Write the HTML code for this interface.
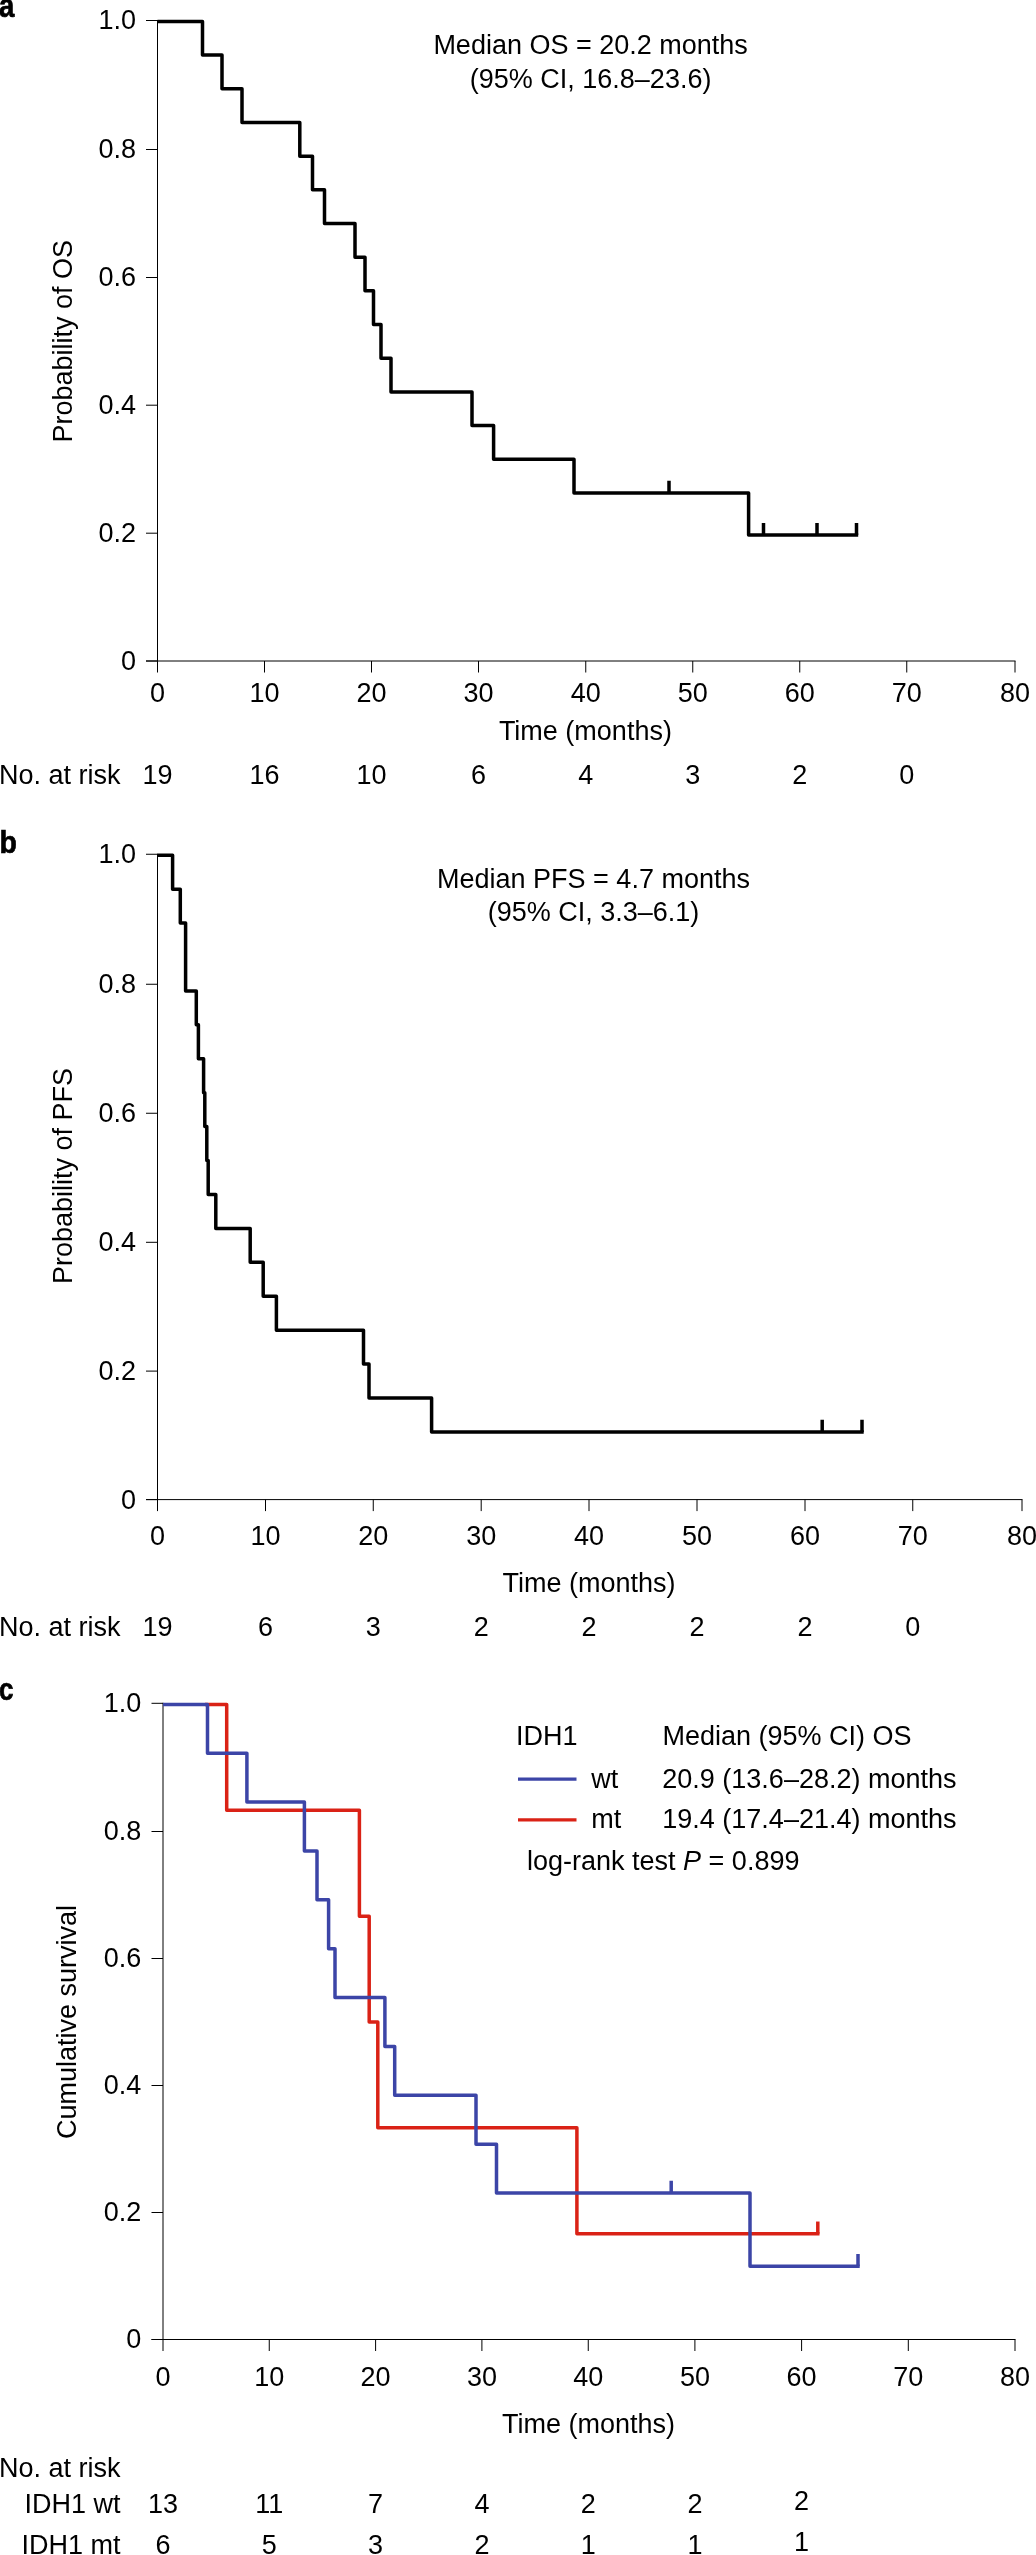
<!DOCTYPE html>
<html><head><meta charset="utf-8"><style>
html,body{margin:0;padding:0;background:#fff;}
svg{display:block;font-family:"Liberation Sans", sans-serif;will-change:transform;}
text{fill:#000;}
</style></head><body>
<svg width="1036" height="2555" viewBox="0 0 1036 2555">
<line x1="157.5" y1="20.0" x2="157.5" y2="672.5" stroke="#000" stroke-width="1"/>
<line x1="146.0" y1="20.5" x2="157.5" y2="20.5" stroke="#000" stroke-width="1"/>
<text x="136" y="29.4" text-anchor="end" font-size="27">1.0</text>
<line x1="146.0" y1="149.5" x2="157.5" y2="149.5" stroke="#000" stroke-width="1"/>
<text x="136" y="158.4" text-anchor="end" font-size="27">0.8</text>
<line x1="146.0" y1="277.5" x2="157.5" y2="277.5" stroke="#000" stroke-width="1"/>
<text x="136" y="286.4" text-anchor="end" font-size="27">0.6</text>
<line x1="146.0" y1="405.2" x2="157.5" y2="405.2" stroke="#000" stroke-width="1"/>
<text x="136" y="414.1" text-anchor="end" font-size="27">0.4</text>
<line x1="146.0" y1="533.2" x2="157.5" y2="533.2" stroke="#000" stroke-width="1"/>
<text x="136" y="542.1" text-anchor="end" font-size="27">0.2</text>
<line x1="146.0" y1="661.0" x2="157.5" y2="661.0" stroke="#000" stroke-width="1"/>
<text x="136" y="669.9" text-anchor="end" font-size="27">0</text>
<line x1="146.0" y1="661.0" x2="1015.5" y2="661.0" stroke="#000" stroke-width="1"/>
<line x1="264.5" y1="661.0" x2="264.5" y2="672.5" stroke="#000" stroke-width="1"/>
<line x1="371.5" y1="661.0" x2="371.5" y2="672.5" stroke="#000" stroke-width="1"/>
<line x1="478.5" y1="661.0" x2="478.5" y2="672.5" stroke="#000" stroke-width="1"/>
<line x1="585.75" y1="661.0" x2="585.75" y2="672.5" stroke="#000" stroke-width="1"/>
<line x1="692.75" y1="661.0" x2="692.75" y2="672.5" stroke="#000" stroke-width="1"/>
<line x1="799.75" y1="661.0" x2="799.75" y2="672.5" stroke="#000" stroke-width="1"/>
<line x1="906.75" y1="661.0" x2="906.75" y2="672.5" stroke="#000" stroke-width="1"/>
<line x1="1015.0" y1="661.0" x2="1015.0" y2="672.5" stroke="#000" stroke-width="1"/>
<text x="157.5" y="701.7" text-anchor="middle" font-size="27">0</text>
<text x="264.5" y="701.7" text-anchor="middle" font-size="27">10</text>
<text x="371.5" y="701.7" text-anchor="middle" font-size="27">20</text>
<text x="478.5" y="701.7" text-anchor="middle" font-size="27">30</text>
<text x="585.75" y="701.7" text-anchor="middle" font-size="27">40</text>
<text x="692.75" y="701.7" text-anchor="middle" font-size="27">50</text>
<text x="799.75" y="701.7" text-anchor="middle" font-size="27">60</text>
<text x="906.75" y="701.7" text-anchor="middle" font-size="27">70</text>
<text x="1015.0" y="701.7" text-anchor="middle" font-size="27">80</text>
<text x="585.4" y="740.3" text-anchor="middle" font-size="27">Time (months)</text>
<text x="71.9" y="341.3" text-anchor="middle" font-size="27" transform="rotate(-90 71.9 341.3)">Probability of OS</text>
<text transform="translate(-0.9,17) scale(0.85,1)" font-size="32.5" font-weight="bold" stroke="#000" stroke-width="0.7">a</text>
<text x="590.6" y="53.9" text-anchor="middle" font-size="27">Median OS = 20.2 months</text>
<text x="590.6" y="87.5" text-anchor="middle" font-size="27">(95% CI, 16.8–23.6)</text>
<text x="-1" y="784.0" text-anchor="start" font-size="27">No. at risk</text>
<text x="157.5" y="784.0" text-anchor="middle" font-size="27">19</text>
<text x="264.5" y="784.0" text-anchor="middle" font-size="27">16</text>
<text x="371.5" y="784.0" text-anchor="middle" font-size="27">10</text>
<text x="478.5" y="784.0" text-anchor="middle" font-size="27">6</text>
<text x="585.75" y="784.0" text-anchor="middle" font-size="27">4</text>
<text x="692.75" y="784.0" text-anchor="middle" font-size="27">3</text>
<text x="799.75" y="784.0" text-anchor="middle" font-size="27">2</text>
<text x="906.75" y="784.0" text-anchor="middle" font-size="27">0</text>
<path d="M157.5,21.4 H202.5 V55.08 H222 V88.77 H242 V122.45 H299.8 V156.14 H312.5 V189.82 H324.5 V223.51 H355 V257.19 H365 V290.87 H373.5 V324.56 H381 V358.24 H391 V391.93 H472 V425.61 H493.6 V459.29 H574.0 V492.98 H748.6 V535.08 H858.2" fill="none" stroke="#000" stroke-width="3.5" stroke-linejoin="round" stroke-linecap="butt"/>
<path d="M669,492.98 V480.78 M763.5,535.08 V522.88 M817,535.08 V522.88 M856.5,535.08 V522.88" fill="none" stroke="#000" stroke-width="3.5" stroke-linejoin="round" stroke-linecap="butt"/>
<line x1="157.5" y1="853.75" x2="157.5" y2="1511.1" stroke="#000" stroke-width="1"/>
<line x1="146.0" y1="854.25" x2="157.5" y2="854.25" stroke="#000" stroke-width="1"/>
<text x="136" y="863.15" text-anchor="end" font-size="27">1.0</text>
<line x1="146.0" y1="984.25" x2="157.5" y2="984.25" stroke="#000" stroke-width="1"/>
<text x="136" y="993.15" text-anchor="end" font-size="27">0.8</text>
<line x1="146.0" y1="1113.25" x2="157.5" y2="1113.25" stroke="#000" stroke-width="1"/>
<text x="136" y="1122.15" text-anchor="end" font-size="27">0.6</text>
<line x1="146.0" y1="1242.3" x2="157.5" y2="1242.3" stroke="#000" stroke-width="1"/>
<text x="136" y="1251.2" text-anchor="end" font-size="27">0.4</text>
<line x1="146.0" y1="1371.1" x2="157.5" y2="1371.1" stroke="#000" stroke-width="1"/>
<text x="136" y="1380.0" text-anchor="end" font-size="27">0.2</text>
<line x1="146.0" y1="1499.6" x2="157.5" y2="1499.6" stroke="#000" stroke-width="1"/>
<text x="136" y="1508.5" text-anchor="end" font-size="27">0</text>
<line x1="146.0" y1="1499.6" x2="1022.5" y2="1499.6" stroke="#000" stroke-width="1"/>
<line x1="265.5" y1="1499.6" x2="265.5" y2="1511.1" stroke="#000" stroke-width="1"/>
<line x1="373.25" y1="1499.6" x2="373.25" y2="1511.1" stroke="#000" stroke-width="1"/>
<line x1="481.2" y1="1499.6" x2="481.2" y2="1511.1" stroke="#000" stroke-width="1"/>
<line x1="589.0" y1="1499.6" x2="589.0" y2="1511.1" stroke="#000" stroke-width="1"/>
<line x1="697.0" y1="1499.6" x2="697.0" y2="1511.1" stroke="#000" stroke-width="1"/>
<line x1="805.0" y1="1499.6" x2="805.0" y2="1511.1" stroke="#000" stroke-width="1"/>
<line x1="912.75" y1="1499.6" x2="912.75" y2="1511.1" stroke="#000" stroke-width="1"/>
<line x1="1022.0" y1="1499.6" x2="1022.0" y2="1511.1" stroke="#000" stroke-width="1"/>
<text x="157.5" y="1544.6" text-anchor="middle" font-size="27">0</text>
<text x="265.5" y="1544.6" text-anchor="middle" font-size="27">10</text>
<text x="373.25" y="1544.6" text-anchor="middle" font-size="27">20</text>
<text x="481.2" y="1544.6" text-anchor="middle" font-size="27">30</text>
<text x="589.0" y="1544.6" text-anchor="middle" font-size="27">40</text>
<text x="697.0" y="1544.6" text-anchor="middle" font-size="27">50</text>
<text x="805.0" y="1544.6" text-anchor="middle" font-size="27">60</text>
<text x="912.75" y="1544.6" text-anchor="middle" font-size="27">70</text>
<text x="1022.0" y="1544.6" text-anchor="middle" font-size="27">80</text>
<text x="589" y="1592.2" text-anchor="middle" font-size="27">Time (months)</text>
<text x="71.9" y="1176" text-anchor="middle" font-size="27" transform="rotate(-90 71.9 1176)">Probability of PFS</text>
<text transform="translate(-0.6,852.6) scale(0.89,1)" font-size="32" font-weight="bold" stroke="#000" stroke-width="0.7">b</text>
<text x="593.5" y="887.8" text-anchor="middle" font-size="27">Median PFS = 4.7 months</text>
<text x="593.5" y="921.3" text-anchor="middle" font-size="27">(95% CI, 3.3–6.1)</text>
<text x="-1" y="1635.8" text-anchor="start" font-size="27">No. at risk</text>
<text x="157.5" y="1635.8" text-anchor="middle" font-size="27">19</text>
<text x="265.5" y="1635.8" text-anchor="middle" font-size="27">6</text>
<text x="373.25" y="1635.8" text-anchor="middle" font-size="27">3</text>
<text x="481.2" y="1635.8" text-anchor="middle" font-size="27">2</text>
<text x="589.0" y="1635.8" text-anchor="middle" font-size="27">2</text>
<text x="697.0" y="1635.8" text-anchor="middle" font-size="27">2</text>
<text x="805.0" y="1635.8" text-anchor="middle" font-size="27">2</text>
<text x="912.75" y="1635.8" text-anchor="middle" font-size="27">0</text>
<path d="M157.5,855.2 H172.6 V889.13 H180.3 V923.05 H185.6 V990.91 H196.3 V1024.83 H198.4 V1058.76 H203.6 V1092.68 H204.8 V1126.61 H206.8 V1160.54 H208.2 V1194.46 H215.8 V1228.39 H250.2 V1262.32 H263.2 V1296.24 H276.4 V1330.17 H363.5 V1364.09 H369 V1398.02 H431.6 V1431.95 H863.7" fill="none" stroke="#000" stroke-width="3.5" stroke-linejoin="round" stroke-linecap="butt"/>
<path d="M822.2,1431.95 V1419.75 M862,1431.95 V1419.75" fill="none" stroke="#000" stroke-width="3.5" stroke-linejoin="round" stroke-linecap="butt"/>
<line x1="163.0" y1="1702.8" x2="163.0" y2="2351.0" stroke="#000" stroke-width="1"/>
<line x1="151.5" y1="1703.3" x2="163.0" y2="1703.3" stroke="#000" stroke-width="1"/>
<text x="141.3" y="1712.2" text-anchor="end" font-size="27">1.0</text>
<line x1="151.5" y1="1831.5" x2="163.0" y2="1831.5" stroke="#000" stroke-width="1"/>
<text x="141.3" y="1840.4" text-anchor="end" font-size="27">0.8</text>
<line x1="151.5" y1="1958.5" x2="163.0" y2="1958.5" stroke="#000" stroke-width="1"/>
<text x="141.3" y="1967.4" text-anchor="end" font-size="27">0.6</text>
<line x1="151.5" y1="2085.5" x2="163.0" y2="2085.5" stroke="#000" stroke-width="1"/>
<text x="141.3" y="2094.4" text-anchor="end" font-size="27">0.4</text>
<line x1="151.5" y1="2212.5" x2="163.0" y2="2212.5" stroke="#000" stroke-width="1"/>
<text x="141.3" y="2221.4" text-anchor="end" font-size="27">0.2</text>
<line x1="151.5" y1="2339.5" x2="163.0" y2="2339.5" stroke="#000" stroke-width="1"/>
<text x="141.3" y="2348.4" text-anchor="end" font-size="27">0</text>
<line x1="151.5" y1="2339.5" x2="1015.5" y2="2339.5" stroke="#000" stroke-width="1"/>
<line x1="269.25" y1="2339.5" x2="269.25" y2="2351.0" stroke="#000" stroke-width="1"/>
<line x1="375.6" y1="2339.5" x2="375.6" y2="2351.0" stroke="#000" stroke-width="1"/>
<line x1="481.9" y1="2339.5" x2="481.9" y2="2351.0" stroke="#000" stroke-width="1"/>
<line x1="588.25" y1="2339.5" x2="588.25" y2="2351.0" stroke="#000" stroke-width="1"/>
<line x1="694.9" y1="2339.5" x2="694.9" y2="2351.0" stroke="#000" stroke-width="1"/>
<line x1="801.6" y1="2339.5" x2="801.6" y2="2351.0" stroke="#000" stroke-width="1"/>
<line x1="908.3" y1="2339.5" x2="908.3" y2="2351.0" stroke="#000" stroke-width="1"/>
<line x1="1015.0" y1="2339.5" x2="1015.0" y2="2351.0" stroke="#000" stroke-width="1"/>
<text x="163.0" y="2386.2" text-anchor="middle" font-size="27">0</text>
<text x="269.25" y="2386.2" text-anchor="middle" font-size="27">10</text>
<text x="375.6" y="2386.2" text-anchor="middle" font-size="27">20</text>
<text x="481.9" y="2386.2" text-anchor="middle" font-size="27">30</text>
<text x="588.25" y="2386.2" text-anchor="middle" font-size="27">40</text>
<text x="694.9" y="2386.2" text-anchor="middle" font-size="27">50</text>
<text x="801.6" y="2386.2" text-anchor="middle" font-size="27">60</text>
<text x="908.3" y="2386.2" text-anchor="middle" font-size="27">70</text>
<text x="1015.0" y="2386.2" text-anchor="middle" font-size="27">80</text>
<text x="588.5" y="2433" text-anchor="middle" font-size="27">Time (months)</text>
<text x="76.1" y="2022" text-anchor="middle" font-size="27" transform="rotate(-90 76.1 2022)">Cumulative survival</text>
<text transform="translate(-1,1699.5) scale(0.81,1)" font-size="32" font-weight="bold" stroke="#000" stroke-width="0.7">c</text>
<path d="M205,1704.4 H226.7 V1810.27 H359.4 V1916.13 H369.2 V2022.0 H377.8 V2127.87 H576.9 V2233.73 H819.5" fill="none" stroke="#da2216" stroke-width="3.5" stroke-linejoin="round" stroke-linecap="butt"/>
<path d="M817.8,2233.73 V2221.53" fill="none" stroke="#da2216" stroke-width="3.5" stroke-linejoin="round" stroke-linecap="butt"/>
<path d="M163,1704.4 H207.5 V1753.26 H246.9 V1802.12 H304.4 V1850.98 H317 V1899.85 H328.6 V1948.71 H335 V1997.57 H384.9 V2046.43 H394.7 V2095.29 H476 V2144.15 H496.5 V2193.02 H750 V2266.31 H859.7" fill="none" stroke="#3c45a7" stroke-width="3.5" stroke-linejoin="round" stroke-linecap="butt"/>
<path d="M671.2,2193.02 V2180.82 M858,2266.31 V2254.11" fill="none" stroke="#3c45a7" stroke-width="3.5" stroke-linejoin="round" stroke-linecap="butt"/>
<text x="516" y="1744.8" text-anchor="start" font-size="27">IDH1</text>
<text x="662.5" y="1744.8" text-anchor="start" font-size="27">Median (95% CI) OS</text>
<line x1="518" y1="1779.1" x2="576.5" y2="1779.1" stroke="#3c45a7" stroke-width="3.2"/>
<text x="591.3" y="1787.8" text-anchor="start" font-size="27">wt</text>
<text x="662.3" y="1787.8" text-anchor="start" font-size="27">20.9 (13.6–28.2) months</text>
<line x1="518" y1="1819.9" x2="576.5" y2="1819.9" stroke="#da2216" stroke-width="3.2"/>
<text x="591.3" y="1828.2" text-anchor="start" font-size="27">mt</text>
<text x="662.3" y="1828.2" text-anchor="start" font-size="27">19.4 (17.4–21.4) months</text>
<text x="527" y="1869.9" font-size="27">log-rank test <tspan font-style="italic">P</tspan> = 0.899</text>
<text x="-1" y="2476.6" text-anchor="start" font-size="27">No. at risk</text>
<text x="120.5" y="2513.3" text-anchor="end" font-size="27">IDH1 wt</text>
<text x="120.5" y="2554.4" text-anchor="end" font-size="27">IDH1 mt</text>
<text x="163.0" y="2513.3" text-anchor="middle" font-size="27">13</text>
<text x="269.25" y="2513.3" text-anchor="middle" font-size="27">11</text>
<text x="375.6" y="2513.3" text-anchor="middle" font-size="27">7</text>
<text x="481.9" y="2513.3" text-anchor="middle" font-size="27">4</text>
<text x="588.25" y="2513.3" text-anchor="middle" font-size="27">2</text>
<text x="694.9" y="2513.3" text-anchor="middle" font-size="27">2</text>
<text x="801.6" y="2510.3" text-anchor="middle" font-size="27">2</text>
<text x="163.0" y="2554.4" text-anchor="middle" font-size="27">6</text>
<text x="269.25" y="2554.4" text-anchor="middle" font-size="27">5</text>
<text x="375.6" y="2554.4" text-anchor="middle" font-size="27">3</text>
<text x="481.9" y="2554.4" text-anchor="middle" font-size="27">2</text>
<text x="588.25" y="2554.4" text-anchor="middle" font-size="27">1</text>
<text x="694.9" y="2554.4" text-anchor="middle" font-size="27">1</text>
<text x="801.6" y="2551.4" text-anchor="middle" font-size="27">1</text>
</svg>
</body></html>
